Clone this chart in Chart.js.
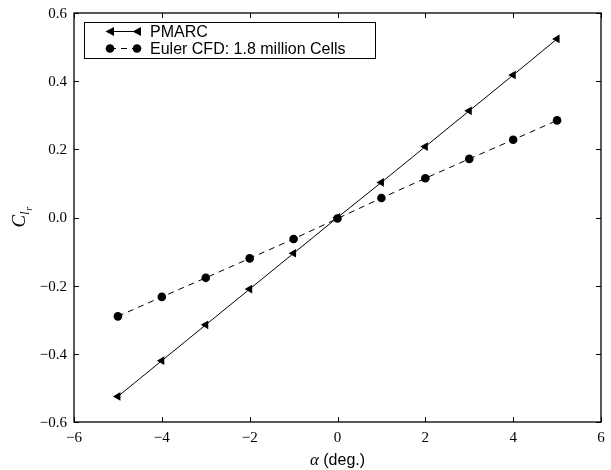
<!DOCTYPE html>
<html><head><meta charset="utf-8">
<script src="https://cdn.jsdelivr.net/npm/chart.js@4.4.1/dist/chart.umd.min.js"></script>
<style>html,body{margin:0;padding:0;background:#fff}#wrap{width:611px;height:470px}</style>
</head><body><div id="wrap"><canvas id="c" width="611" height="470"></canvas></div>
<script>
const alphaDeg = [-5,-4,-3,-2,-1,0,1,2,3,4,5];
const pmarc = [-0.525,-0.420,-0.315,-0.210,-0.105,0.000,0.103,0.208,0.313,0.418,0.524];
const euler = [-0.290,-0.233,-0.177,-0.120,-0.063,-0.003,0.057,0.115,0.172,0.228,0.285];
const seriesLabels = ["PMARC","Euler CFD: 1.8 million Cells"];
const xTicks = [-6,-4,-2,0,2,4,6];
const yTicks = [-0.6,-0.4,-0.2,0.0,0.2,0.4,0.6];

const fmt = (v,d) => (v < -1e-9 ? "\u2212" : "") + Math.abs(v).toFixed(d);
const SERIF = '"Times New Roman", "Liberation Serif", serif';
const SANS = '"Liberation Sans", Arial, sans-serif';

const frame = {
  id: 'frame',
  afterDraw(chart){
    const {ctx, chartArea:a, scales:{x,y}} = chart;
    ctx.save();
    ctx.strokeStyle = '#000';
    ctx.fillStyle = '#000';
    ctx.lineWidth = 1;
    const L = 5;
    ctx.beginPath();
    xTicks.forEach(v=>{const p=Math.round(x.getPixelForValue(v))+0.5;
      ctx.moveTo(p,a.bottom);ctx.lineTo(p,a.bottom-L);
      ctx.moveTo(p,a.top);ctx.lineTo(p,a.top+L);});
    yTicks.forEach(v=>{const p=Math.round(y.getPixelForValue(v))+0.5;
      ctx.moveTo(a.left,p);ctx.lineTo(a.left+L,p);
      ctx.moveTo(a.right,p);ctx.lineTo(a.right-L,p);});
    ctx.stroke();
    ctx.lineWidth = 1.3;
    ctx.strokeRect(a.left, a.top, a.right-a.left, a.bottom-a.top);

    // tick labels
    ctx.font = '15px ' + SERIF;
    ctx.textBaseline = 'middle';
    ctx.textAlign = 'center';
    xTicks.forEach(v=>ctx.fillText(fmt(v,0), x.getPixelForValue(v), a.bottom+16));
    ctx.textAlign = 'right';
    yTicks.forEach(v=>ctx.fillText(fmt(v,1), a.left-7, y.getPixelForValue(v)+1));

    // legend
    const lx=84, ly=22, lw=291, lh=36;
    ctx.fillStyle='#fff';
    ctx.fillRect(lx,ly,lw,lh);
    ctx.fillStyle='#000';
    ctx.lineWidth=1;
    ctx.strokeRect(lx+0.5,ly+0.5,lw,lh);
    const rows=[ly+9.5, ly+26.5];
    ctx.beginPath();ctx.moveTo(110,rows[0]);ctx.lineTo(137,rows[0]);ctx.stroke();
    const tri=(cx,cy)=>{ctx.beginPath();ctx.moveTo(cx-4.5,cy);ctx.lineTo(cx+4,cy-4.5);ctx.lineTo(cx+4,cy+4.5);ctx.closePath();ctx.fill();};
    tri(110,rows[0]);tri(137,rows[0]);
    ctx.setLineDash([6,5]);
    ctx.beginPath();ctx.moveTo(110,rows[1]);ctx.lineTo(137,rows[1]);ctx.stroke();
    ctx.setLineDash([]);
    [110,137].forEach(cx=>{ctx.beginPath();ctx.arc(cx,rows[1],4.3,0,Math.PI*2);ctx.fill();});
    ctx.font='16px '+SANS;
    ctx.textBaseline='middle';ctx.textAlign='left';
    ctx.fillText(seriesLabels[0],150,rows[0]+1);
    ctx.fillText(seriesLabels[1],150,rows[1]+1);

    // x title
    ctx.textBaseline='alphabetic';
    ctx.font='italic 17px '+SERIF;
    const aW=ctx.measureText('\u03b1').width;
    ctx.font='16px '+SANS;
    const rest=' (deg.)';
    const rW=ctx.measureText(rest).width;
    const cx=(a.left+a.right)/2, sx=cx-(aW+rW)/2, by=465;
    ctx.font='italic 17px '+SERIF; ctx.fillText('\u03b1',sx,by);
    ctx.font='16px '+SANS; ctx.fillText(rest,sx+aW,by);

    // y title C_{l_r}
    ctx.save();
    ctx.translate(25,(a.top+a.bottom)/2);
    ctx.rotate(-Math.PI/2);
    ctx.font='italic 19px '+SERIF;
    const cW=ctx.measureText('C').width;
    ctx.font='italic 13px '+SERIF;
    const lW=ctx.measureText('l').width;
    ctx.font='italic 10px '+SERIF;
    const rW2=ctx.measureText('r').width;
    const tot=cW+lW+rW2, s0=-tot/2;
    ctx.font='italic 19px '+SERIF; ctx.fillText('C',s0,0);
    ctx.font='italic 13px '+SERIF; ctx.fillText('l',s0+cW,4);
    ctx.font='italic 10px '+SERIF; ctx.fillText('r',s0+cW+lW+0.5,7);
    ctx.restore();
    ctx.restore();
  }
};

new Chart(document.getElementById('c'), {
  type:'line',
  data:{
    labels: alphaDeg,
    datasets:[
      {label:seriesLabels[0], data:alphaDeg.map((v,i)=>({x:v,y:pmarc[i]})),
       borderColor:'#000', backgroundColor:'#000', borderWidth:1,
       pointStyle:'triangle', rotation:-90, pointRadius:5, pointHoverRadius:5, pointBorderWidth:0},
      {label:seriesLabels[1], data:alphaDeg.map((v,i)=>({x:v,y:euler[i]})),
       borderColor:'#000', backgroundColor:'#000', borderWidth:1, borderDash:[6,5],
       pointStyle:'circle', pointRadius:4.3, pointHoverRadius:4.3, pointBorderWidth:0}
    ]
  },
  options:{
    responsive:false, animation:false, devicePixelRatio:1,
    layout:{padding:{left:0,top:13,right:10,bottom:0}},
    plugins:{legend:{display:false}, tooltip:{enabled:false}},
    elements:{line:{tension:0}},
    scales:{
      x:{type:'linear', min:-6, max:6,
         afterBuildTicks:s=>{s.ticks=xTicks.map(v=>({value:v}));},
         afterFit:s=>{s.height=48;},
         grid:{display:false}, border:{display:false},
         ticks:{display:false}},
      y:{type:'linear', min:-0.6, max:0.6,
         afterBuildTicks:s=>{s.ticks=yTicks.map(v=>({value:v}));},
         afterFit:s=>{s.width=74;},
         grid:{display:false}, border:{display:false},
         ticks:{display:false}}
    }
  },
  plugins:[frame]
});
</script></body></html>
